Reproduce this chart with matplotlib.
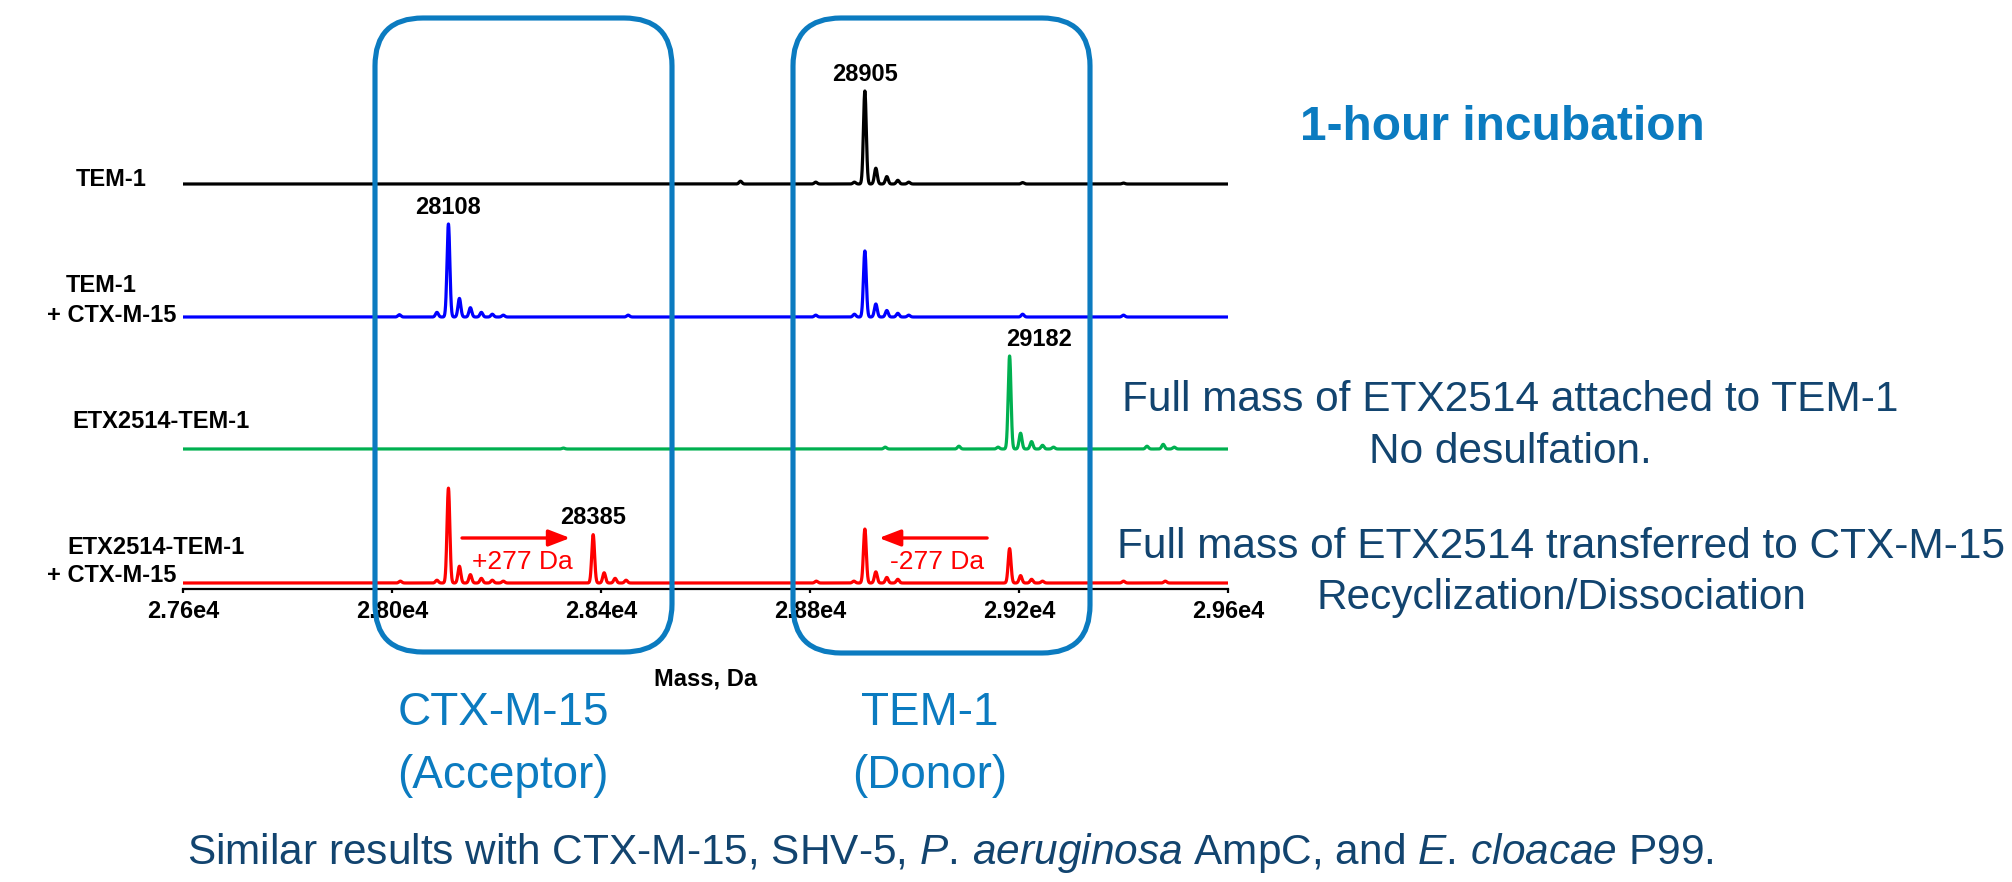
import numpy as np
import matplotlib
matplotlib.use("Agg")
import matplotlib.pyplot as plt
from matplotlib.patches import FancyBboxPatch
from matplotlib.transforms import IdentityTransform

plt.rcParams['font.family'] = ['Liberation Sans', 'DejaVu Sans']
plt.rcParams['mathtext.fontset'] = 'custom'
plt.rcParams['mathtext.rm'] = 'Liberation Sans'
plt.rcParams['mathtext.it'] = 'Liberation Sans:italic'

# ---------------- data ----------------
mass_min, mass_max = 27600, 29600
tick_values = [27600, 28000, 28400, 28800, 29200, 29600]
tick_labels = ["2.76e4", "2.80e4", "2.84e4", "2.88e4", "2.92e4", "2.96e4"]

trace_names = ["TEM-1", "TEM-1\n+ CTX-M-15", "ETX2514-TEM-1", "ETX2514-TEM-1\n+ CTX-M-15"]
trace_colors = ["#000000", "#0000FF", "#00B050", "#FF0000"]

tem1_mass = [28667, 28811, 28885, 28905, 28926, 28947, 28968, 28989, 29207, 29400]
tem1_int = [3, 2, 2, 100, 17, 8, 4, 2, 1.5, 1]

tem1_ctx_mass = [28014, 28086, 28108, 28129, 28150, 28171, 28192, 28213, 28452,
                 28811, 28885, 28905, 28926, 28947, 28968, 28989, 29207, 29400]
tem1_ctx_int = [2.5, 5, 100, 20, 10, 5, 3, 2, 2,
                2, 3, 71, 14, 7, 4, 2, 3, 2]

etx_tem1_mass = [28328, 28944, 29085, 29160, 29182, 29203, 29224, 29245, 29266, 29445, 29476, 29497]
etx_tem1_int = [1, 2, 3, 2, 100, 17, 8, 4, 2, 3, 5, 2]

etx_tem1_ctx_mass = [28016, 28086, 28108, 28129, 28150, 28171, 28192, 28213,
                     28385, 28406, 28427, 28448,
                     28812, 28884, 28905, 28926, 28947, 28968,
                     29182, 29203, 29224, 29245, 29400, 29480]
etx_tem1_ctx_int = [2, 3, 102, 18, 9, 5, 3, 2,
                    52, 11, 5, 3,
                    2, 2, 58, 12, 6, 4,
                    37, 8, 4, 2, 2, 2]

peak_labels = ["28905", "28108", "29182", "28385"]
peak_label_mass = [28905, 28108, 29182, 28385]
peak_label_trace = [0, 1, 2, 3]

# ---------------- figure ----------------
W, H = 2012, 882
fig = plt.figure(figsize=(W / 100, H / 100), dpi=100)
fig.patch.set_facecolor("white")

def fx(x):
    return x / W

def fy(y):
    return 1 - y / H

ax_left, ax_right, ax_bottom, ax_top = 183, 1228, 589, 30
ax = fig.add_axes([fx(ax_left), fy(ax_bottom), (ax_right - ax_left) / W, (ax_bottom - ax_top) / H])
ax.set_xlim(mass_min, mass_max)
ax.set_ylim(0, ax_bottom - ax_top)
ax.patch.set_alpha(0)

offsets = [405, 272, 140, 6]
scale = 0.93
sigma = 2.7
grid = np.linspace(mass_min, mass_max, 8001)

series = [(tem1_mass, tem1_int), (tem1_ctx_mass, tem1_ctx_int),
          (etx_tem1_mass, etx_tem1_int), (etx_tem1_ctx_mass, etx_tem1_ctx_int)]

def profile(masses, ints):
    y = np.zeros_like(grid)
    for m, i in zip(masses, ints):
        y += i * np.exp(-0.5 * ((grid - m) / sigma) ** 2)
    return y

profiles = []
for (m, i), off, col in zip(series, offsets, trace_colors):
    p = profile(m, i)
    profiles.append(p)
    ax.plot(grid, off + scale * p, color=col, lw=2.3, solid_joinstyle="round")

for lab, m, t in zip(peak_labels, peak_label_mass, peak_label_trace):
    top = offsets[t] + scale * np.interp(m, grid, profiles[t])
    dx = 21 if lab == "29182" else 0
    ax.annotate(lab, xy=(m, top), xytext=(dx, 12), textcoords="offset points",
                ha="center", va="center", fontsize=17, fontweight="bold", color="black")

# arrows and shift annotations
ax.annotate("", xy=(28341, 51), xytext=(28134, 51),
            arrowprops=dict(arrowstyle="-|>,head_length=0.65,head_width=0.25",
                            color="#FF0000", lw=2.4, mutation_scale=20, shrinkA=0, shrinkB=0))
ax.annotate("", xy=(28932, 51), xytext=(29139, 51),
            arrowprops=dict(arrowstyle="-|>,head_length=0.65,head_width=0.25",
                            color="#FF0000", lw=2.4, mutation_scale=20, shrinkA=0, shrinkB=0))
ax.text(28249, 27, "+277 Da", ha="center", va="center", fontsize=19, color="#FF0000")
ax.text(29043, 27, "-277 Da", ha="center", va="center", fontsize=19, color="#FF0000")

# axis styling
for s in ["top", "right", "left"]:
    ax.spines[s].set_visible(False)
ax.spines["bottom"].set_linewidth(1.6)
ax.set_yticks([])
ax.set_xticks(tick_values)
ax.set_xticklabels(tick_labels, fontsize=17, fontweight="bold")
ax.tick_params(axis="x", direction="out", length=3, width=1.6, pad=5)

# left trace labels
dy = 4
lab_kw = dict(ha="center", va="center", fontsize=17, fontweight="bold", color="black")
fig.text(fx(111), fy(176 + dy), "TEM-1", **lab_kw)
fig.text(fx(101), fy(282 + dy), "TEM-1", **lab_kw)
fig.text(fx(112), fy(312 + dy), "+ CTX-M-15", **lab_kw)
fig.text(fx(161), fy(417 + dy), "ETX2514-TEM-1", **lab_kw)
fig.text(fx(156), fy(543 + dy), "ETX2514-TEM-1", **lab_kw)
fig.text(fx(112), fy(572 + dy), "+ CTX-M-15", **lab_kw)

fig.text(fx(706), fy(675 + dy), "Mass, Da", **lab_kw)

# rounded boxes
box_blue = "#0B7BC0"
for (x0, x1, y0, y1) in [(375, 672, 18, 652), (793, 1090, 18, 653)]:
    bb = FancyBboxPatch((x0, H - y1), x1 - x0, y1 - y0,
                        boxstyle="round,pad=0,rounding_size=48",
                        transform=IdentityTransform(), fill=False,
                        edgecolor=box_blue, lw=3.7, zorder=5)
    fig.add_artist(bb)

# right-side annotations
navy = "#12446F"
fig.text(fx(1502), fy(123 + dy), "1-hour incubation", ha="center", va="center",
         fontsize=34.5, fontweight="bold", color=box_blue)
fig.text(fx(1510), fy(396 + dy), "Full mass of ETX2514 attached to TEM-1", ha="center", va="center",
         fontsize=30.5, color=navy)
fig.text(fx(1510), fy(448 + dy), "No desulfation.", ha="center", va="center", fontsize=30.5, color=navy)
fig.text(fx(1561), fy(543 + dy), "Full mass of ETX2514 transferred to CTX-M-15", ha="center", va="center",
         fontsize=30.5, color=navy)
fig.text(fx(1561), fy(594 + dy), "Recyclization/Dissociation", ha="center", va="center",
         fontsize=30.5, color=navy)

# bottom labels
for x, lines in [(503, ("CTX-M-15", "(Acceptor)")), (930, ("TEM-1", "(Donor)"))]:
    fig.text(fx(x), fy(709 + dy), lines[0], ha="center", va="center", fontsize=33, color=box_blue)
    fig.text(fx(x), fy(772 + dy), lines[1], ha="center", va="center", fontsize=33, color=box_blue)

fig.text(fx(950), fy(849 + dy),
         r"Similar results with CTX-M-15, SHV-5, $\mathit{P.}\,\mathit{aeruginosa}$ AmpC, and $\mathit{E.}\,\mathit{cloacae}$ P99.",
         ha="center", va="center", fontsize=30.5, color=navy)

fig.savefig("out.png", dpi=100)
